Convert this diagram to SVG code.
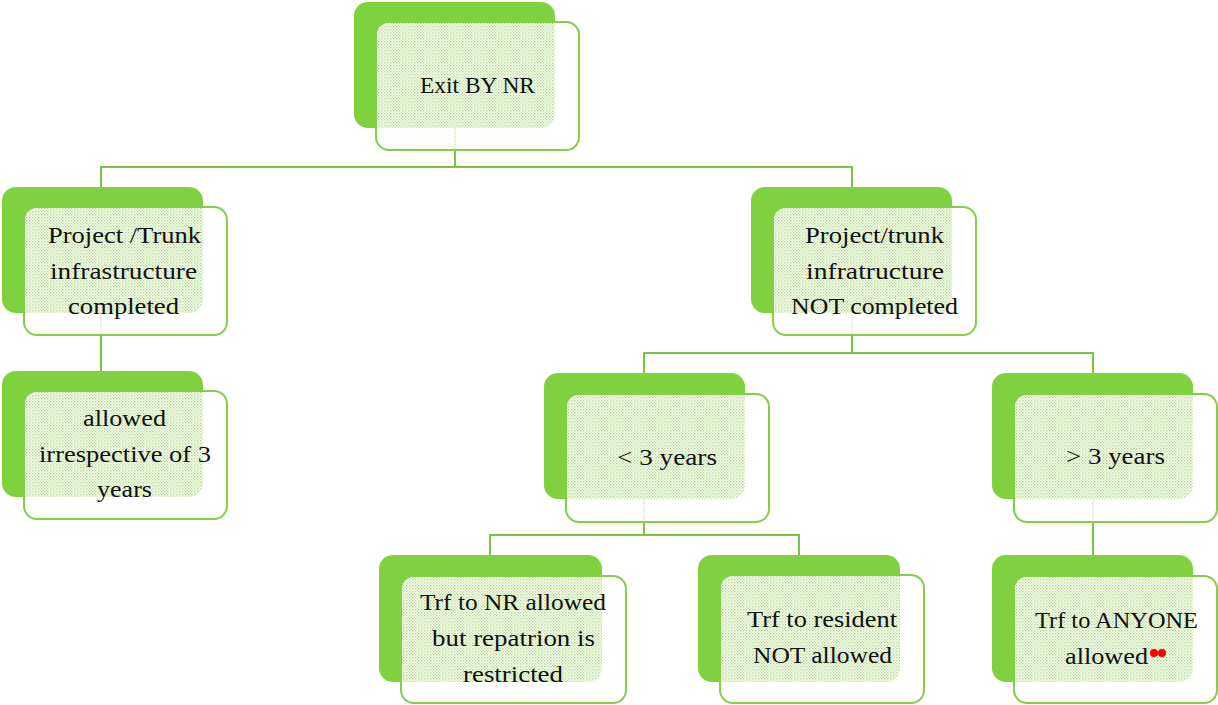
<svg xmlns="http://www.w3.org/2000/svg" width="1218" height="705" viewBox="0 0 1218 705">
<defs>
<pattern id="dots" width="3" height="3" patternUnits="userSpaceOnUse">
<rect width="3" height="3" fill="#ffffff"/>
<rect width="1.5" height="1.5" fill="#b3dd8a"/>
<rect x="1.5" y="1.5" width="1.5" height="1.5" fill="#cfeab4"/>
</pattern>
<style>
.back{fill:#7fd13f}
.front{fill:#ffffff;stroke:#84cf4a;stroke-width:2}
.tex{fill:url(#dots)}
.lbl{font-family:"Liberation Serif","Times New Roman",serif;font-size:23px;fill:#111;text-anchor:middle}
.conn{fill:none;stroke:#7cc443;stroke-width:2}
.ghost{fill:none;stroke:#b3dc8e;stroke-width:1;stroke-dasharray:1 1}
</style>
</defs>
<rect width="1218" height="705" fill="#ffffff"/>
<g id="connectors">
<path class="conn" d="M455,150 V167 M101,187 V167 H852 V187"/>
<path class="conn" d="M101,336 V371"/>
<path class="conn" d="M852,336 V353 M644,373 V353 H1093 V373"/>
<path class="conn" d="M644,522 V535 M490,555 V535 H799 V555"/>
<path class="conn" d="M1093,522 V555"/>
</g>
<g id="n1" transform="translate(354,2)">
<rect class="back" x="0" y="0" width="201" height="126" rx="14"/>
<rect class="front" x="22" y="20" width="203" height="128" rx="13"/>
<path class="tex" d="M35,21 H201 V112 A14,14 0 0 1 187,126 H23 V33 A12,12 0 0 1 35,21 Z"/>
<line class="ghost" x1="101" y1="126" x2="101" y2="147"/>
<text class="lbl" x="123.5" y="91" textLength="115" lengthAdjust="spacingAndGlyphs">Exit BY NR</text>
</g>
<g id="n2" transform="translate(2,187)">
<rect class="back" x="0" y="0" width="201" height="126" rx="14"/>
<rect class="front" x="22" y="20" width="203" height="128" rx="13"/>
<path class="tex" d="M35,21 H201 V112 A14,14 0 0 1 187,126 H23 V33 A12,12 0 0 1 35,21 Z"/>
<line class="ghost" x1="99" y1="126" x2="99" y2="147"/>
<text class="lbl" x="122.5" y="56" textLength="153" lengthAdjust="spacingAndGlyphs">Project /Trunk</text>
<text class="lbl" x="121.5" y="91.5" textLength="147" lengthAdjust="spacingAndGlyphs">infrastructure</text>
<text class="lbl" x="121.5" y="127" textLength="111" lengthAdjust="spacingAndGlyphs">completed</text>
</g>
<g id="n3" transform="translate(751,187)">
<rect class="back" x="0" y="0" width="201" height="126" rx="14"/>
<rect class="front" x="22" y="20" width="203" height="128" rx="13"/>
<path class="tex" d="M35,21 H201 V112 A14,14 0 0 1 187,126 H23 V33 A12,12 0 0 1 35,21 Z"/>
<line class="ghost" x1="101" y1="126" x2="101" y2="147"/>
<text class="lbl" x="123.5" y="56" textLength="139" lengthAdjust="spacingAndGlyphs">Project/trunk</text>
<text class="lbl" x="124" y="91.5" textLength="138" lengthAdjust="spacingAndGlyphs">infratructure</text>
<text class="lbl" x="123.5" y="127" textLength="167" lengthAdjust="spacingAndGlyphs">NOT completed</text>
</g>
<g id="n4" transform="translate(2,371)">
<rect class="back" x="0" y="0" width="201" height="126" rx="14"/>
<rect class="front" x="22" y="20" width="203" height="128" rx="13"/>
<path class="tex" d="M35,21 H201 V112 A14,14 0 0 1 187,126 H23 V33 A12,12 0 0 1 35,21 Z"/>
<text class="lbl" x="122.5" y="55" textLength="83" lengthAdjust="spacingAndGlyphs">allowed</text>
<text class="lbl" x="123" y="91" textLength="172" lengthAdjust="spacingAndGlyphs">irrespective of 3</text>
<text class="lbl" x="122.5" y="126" textLength="55" lengthAdjust="spacingAndGlyphs">years</text>
</g>
<g id="n5" transform="translate(544,373)">
<rect class="back" x="0" y="0" width="201" height="126" rx="14"/>
<rect class="front" x="22" y="21" width="203" height="128" rx="13"/>
<path class="tex" d="M35,22 H201 V112 A14,14 0 0 1 187,126 H23 V34 A12,12 0 0 1 35,22 Z"/>
<line class="ghost" x1="100" y1="126" x2="100" y2="148"/>
<text class="lbl" x="123" y="92" textLength="100" lengthAdjust="spacingAndGlyphs">&lt; 3 years</text>
</g>
<g id="n6" transform="translate(992,373)">
<rect class="back" x="0" y="0" width="201" height="126" rx="14"/>
<rect class="front" x="22" y="21" width="203" height="128" rx="13"/>
<path class="tex" d="M35,22 H201 V112 A14,14 0 0 1 187,126 H23 V34 A12,12 0 0 1 35,22 Z"/>
<line class="ghost" x1="101" y1="126" x2="101" y2="148"/>
<text class="lbl" x="123.5" y="91" textLength="99" lengthAdjust="spacingAndGlyphs">&gt; 3 years</text>
</g>
<g id="n7" transform="translate(379,555)">
<rect class="back" x="0" y="0" width="223" height="127" rx="14"/>
<rect class="front" x="22" y="21" width="225" height="127" rx="13"/>
<path class="tex" d="M35,22 H223 V113 A14,14 0 0 1 209,127 H23 V34 A12,12 0 0 1 35,22 Z"/>
<text class="lbl" x="134" y="55" textLength="186" lengthAdjust="spacingAndGlyphs">Trf to NR allowed</text>
<text class="lbl" x="134.5" y="91" textLength="163" lengthAdjust="spacingAndGlyphs">but repatrion is</text>
<text class="lbl" x="134" y="127" textLength="100" lengthAdjust="spacingAndGlyphs">restricted</text>
</g>
<g id="n8" transform="translate(698,555)">
<rect class="back" x="0" y="0" width="202" height="127" rx="14"/>
<rect class="front" x="22" y="20" width="204" height="128" rx="13"/>
<path class="tex" d="M35,21 H202 V113 A14,14 0 0 1 188,127 H23 V33 A12,12 0 0 1 35,21 Z"/>
<text class="lbl" x="124" y="72" textLength="150" lengthAdjust="spacingAndGlyphs">Trf to resident</text>
<text class="lbl" x="124.5" y="108" textLength="139" lengthAdjust="spacingAndGlyphs">NOT allowed</text>
</g>
<g id="n9" transform="translate(992,555)">
<rect class="back" x="0" y="0" width="201" height="127" rx="14"/>
<rect class="front" x="22" y="21" width="203" height="127" rx="13"/>
<path class="tex" d="M35,22 H201 V113 A14,14 0 0 1 187,127 H23 V34 A12,12 0 0 1 35,22 Z"/>
<text class="lbl" x="124.5" y="73" textLength="163" lengthAdjust="spacingAndGlyphs">Trf to ANYONE</text>
<text class="lbl" x="114.5" y="109" textLength="83" lengthAdjust="spacingAndGlyphs">allowed</text>
<circle cx="162" cy="98" r="4" fill="#ff0000"/>
<circle cx="170" cy="98" r="4" fill="#ff0000"/>
</g>
</svg>
